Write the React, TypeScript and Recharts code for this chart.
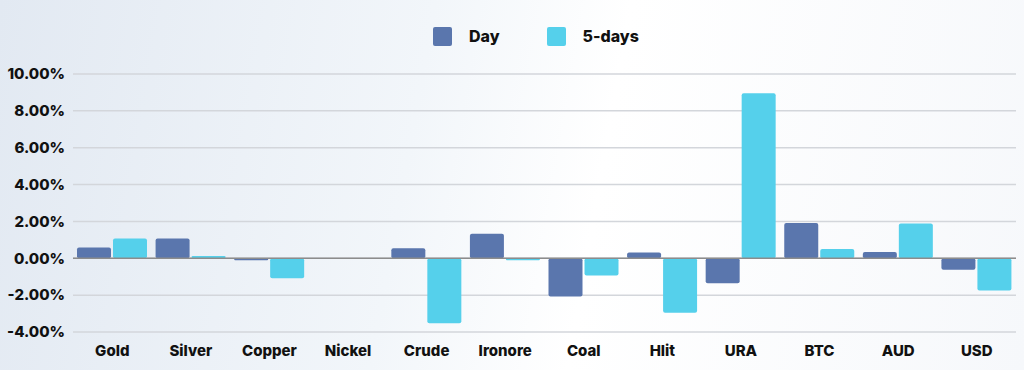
import React from 'react';
import { BarChart, Bar, XAxis, YAxis, CartesianGrid, ReferenceLine, Legend } from 'recharts';

const categories = ['Gold', 'Silver', 'Copper', 'Nickel', 'Crude', 'Ironore', 'Coal', 'Hlit', 'URA', 'BTC', 'AUD', 'USD'];
const dayValues = [0.58, 1.07, -0.11, 0, 0.55, 1.33, -2.08, 0.31, -1.35, 1.91, 0.34, -0.62];
const fiveDayValues = [1.07, 0.13, -1.08, 0, -3.52, -0.11, -0.93, -2.95, 8.96, 0.51, 1.89, -1.75];
const yTicks = [-4, -2, 0, 2, 4, 6, 8, 10];
const seriesNames = ['Day', '5-days'];

const data = categories.map((name, i) => ({ name, day: dayValues[i], five: fiveDayValues[i] }));

const FONT = 'Inter, "Open Sans", sans-serif';
const DAY_COLOR = '#5a76ad';
const FIVE_COLOR = '#55d0eb';

const LegendContent = (props: any) => {
  const payload = [...(props.payload || [])].sort(
    (a: any, b: any) => seriesNames.indexOf(a.value) - seriesNames.indexOf(b.value)
  );
  return (
    <div style={{ display: 'flex', alignItems: 'center', paddingLeft: 433, fontFamily: FONT, fontWeight: 800, fontSize: 16, color: '#111' }}>
      {payload.map((p: any, i: number) => (
        <div key={i} style={{ display: 'flex', alignItems: 'center', marginRight: 47 }}>
          <div style={{ width: 19, height: 19, background: p.color, borderRadius: 2, marginRight: 17 }} />
          <span>{p.value}</span>
        </div>
      ))}
    </div>
  );
};

export default function App() {
  return (
    <div
      style={{
        position: 'absolute',
        left: 0,
        top: 0,
        width: 1024,
        height: 370,
        background: 'linear-gradient(100deg, #e2e9f2 0%, #f2f6fa 40%, #ffffff 58%, #f6f8fb 100%)',
      }}
    >
      <BarChart
        width={1024}
        height={370}
        data={data}
        margin={{ top: 74, right: 8, bottom: 8, left: 0 }}
        barGap={2}
        barSize={34}
      >
        <CartesianGrid horizontal vertical={false} stroke="#d3d6db" strokeWidth={1.5} />
        <XAxis
          dataKey="name"
          axisLine={false}
          tickLine={false}
          height={30}
          tickSize={0}
          tickMargin={13}
          interval={0}
          tick={{ fill: '#111', fontFamily: FONT, fontWeight: 800, fontSize: 15 }}
        />
        <YAxis
          type="number"
          domain={[-4, 10]}
          ticks={yTicks}
          width={73}
          axisLine={false}
          tickLine={false}
          tickFormatter={(v: number) => v.toFixed(2) + '%'}
          tick={{ fill: '#111', fontFamily: FONT, fontWeight: 800, fontSize: 15 }}
        />
        <ReferenceLine y={0} stroke="#8c8c8c" strokeWidth={1.5} />
        <Legend
          layout="horizontal"
          verticalAlign="middle"
          align="center"
          wrapperStyle={{ top: 26, left: 0, width: 1024 }}
          content={<LegendContent />}
        />
        <Bar dataKey="day" name="Day" fill={DAY_COLOR} radius={2} isAnimationActive={false} />
        <Bar dataKey="five" name="5-days" fill={FIVE_COLOR} radius={2} isAnimationActive={false} />
      </BarChart>
    </div>
  );
}
